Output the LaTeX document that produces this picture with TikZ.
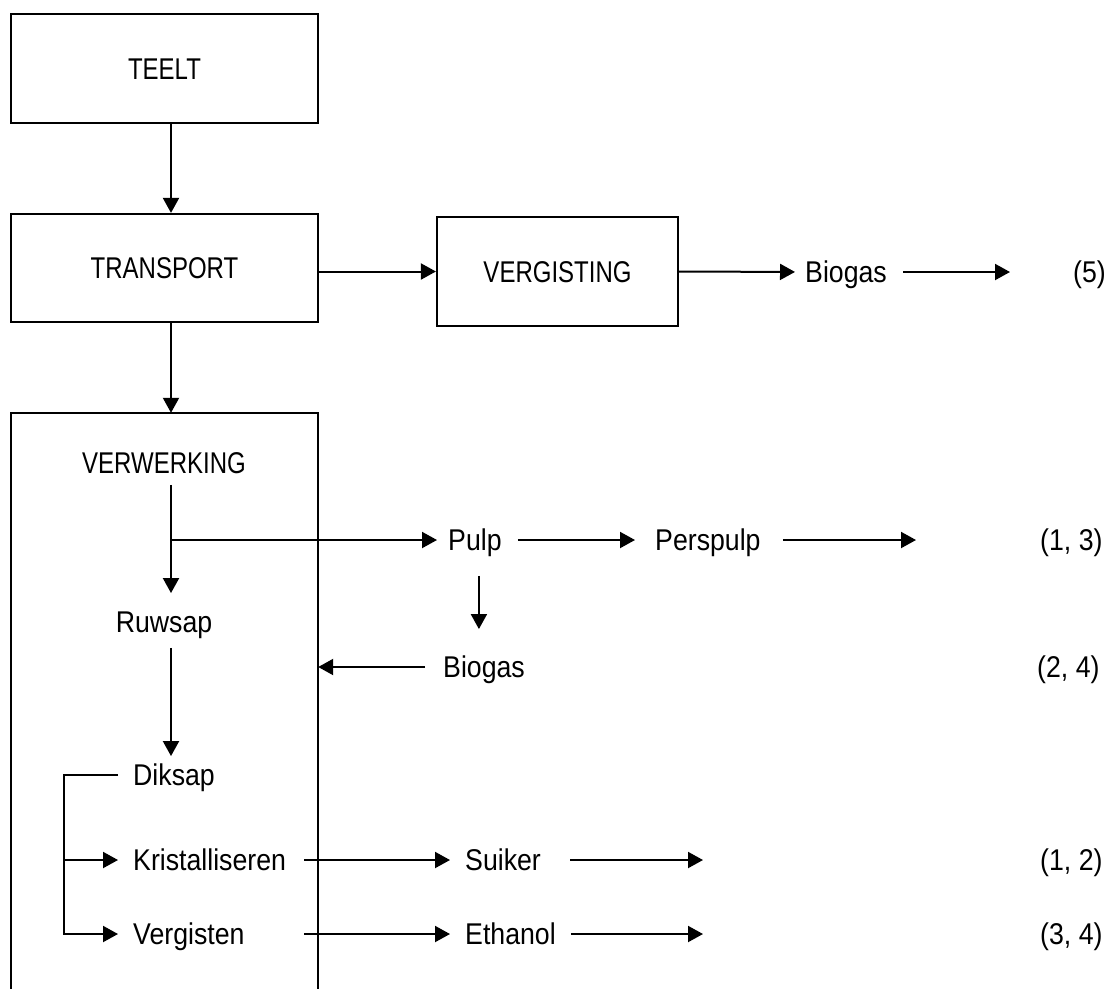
\documentclass[tikz,border=0pt]{standalone}
\usepackage{fontspec}
\setmainfont{Liberation Sans}[FakeStretch=0.89]
\newfontfamily\capsfont{Liberation Sans}[FakeStretch=0.8]
\usetikzlibrary{arrows.meta}
\begin{document}
\begin{tikzpicture}[x=1pt,y=-1pt,
  lbl/.style={inner sep=0pt, text height=21.5pt, text depth=0pt, font=\fontsize{30}{36}\selectfont},
  capslbl/.style={lbl, font=\capsfont\fontsize{30}{36}\selectfont},
  box/.style={draw, line width=2.2pt, minimum width=307pt, inner sep=0pt, text height=21.5pt, text depth=0pt, font=\capsfont\fontsize{30}{36}\selectfont},
  arr/.style={line width=2pt, -{Triangle[length=15pt,width=16pt]}},
  ln/.style={line width=2pt}]
\useasboundingbox (0,0) rectangle (1115,988);
\coordinate (ax) at (171,0);
\coordinate (bx) at (64,0);

% boxes
\node[box, minimum height=109pt] (teelt) at (164.5,68.5) {TEELT};
\node[box, minimum height=108pt] (transport) at (164.5,268) {TRANSPORT};
\node[box, minimum width=241pt, minimum height=109pt] (verg) at (557.5,271.5) {VERGISTING};
\node[minimum width=307pt, minimum height=582pt, inner sep=0pt] (verw) at (164.5,704) {};
\draw[line width=2.2pt] (verw.south west) -- (verw.north west) -- (verw.north east) -- (verw.south east);

% labels
\node[lbl, anchor=west] (biogas1) at (805,272) {Biogas};
\node[lbl, anchor=west] (n5) at (1073,272) {(5)};
\node[capslbl] (vk) at (164,463) {VERWERKING};
\node[lbl, anchor=west] (pulp) at (448,540) {Pulp};
\node[lbl, anchor=west] (perspulp) at (655,540) {Perspulp};
\node[lbl, anchor=west] (n13) at (1040,540) {(1, 3)};
\node[lbl] (ruwsap) at (164,622) {Ruwsap};
\node[lbl, anchor=west] (biogas2) at (443,667) {Biogas};
\node[lbl, anchor=west] (n24) at (1037,667) {(2, 4)};
\node[lbl, anchor=west] (diksap) at (133,775) {Diksap};
\node[lbl, anchor=west] (kris) at (133,860) {Kristalliseren};
\node[lbl, anchor=west] (suiker) at (465,860) {Suiker};
\node[lbl, anchor=west] (n12) at (1040,860) {(1, 2)};
\node[lbl, anchor=west] (verg2) at (133,934) {Vergisten};
\node[lbl, anchor=west] (ethanol) at (465,934) {Ethanol};
\node[lbl, anchor=west] (n34) at (1040,934) {(3, 4)};

% connectors
\draw[arr] (teelt.south -| ax) -- (transport.north -| ax);
\draw[arr] (verg.west -| transport.east) -- (verg.west);
\draw[arr, shorten >=10pt] (verg.east) -- (biogas1.west);
\draw[arr, shorten <=16pt, shorten >=63pt] (biogas1.east) -- (n5.west);
\draw[arr] (transport.south -| ax) -- (verw.north -| ax);
\draw[arr, shorten <=11pt, shorten >=18pt] (vk.south -| ax) -- (ruwsap.north -| ax);
\coordinate (j1) at (pulp.west -| ax);
\draw[arr, shorten >=11pt] (j1) -- (pulp.west);
\draw[arr, shorten <=16pt, shorten >=20pt] (pulp.east) -- (perspulp.west);
\draw[arr, shorten <=22pt, shorten >=124pt] (perspulp.east) -- (n13.west);
\draw[arr, shorten <=25pt, shorten >=27pt] ([xshift=4pt]pulp.south) -- ([xshift=4pt]pulp.south |- biogas2.north);
\draw[arr, shorten <=18pt] (biogas2.west) -- (biogas2.west -| verw.east);
\draw[arr, shorten <=15pt, shorten >=8pt] (ruwsap.south -| ax) -- (diksap.north -| ax);
\draw[arr, shorten >=15pt] ([xshift=-15pt]diksap.west) -- (diksap.west -| bx) -- (verg2.west -| bx) -- (verg2.west);
\draw[arr, shorten >=15pt] (kris.west -| bx) -- (kris.west);
\draw[arr, shorten <=18pt, shorten >=15pt] (kris.east) -- (suiker.west);
\draw[arr, shorten <=18pt, shorten >=15pt] (kris.east |- verg2.east) -- (ethanol.west);
\draw[arr, shorten <=29pt, shorten >=337pt] (suiker.east) -- (n12.west);
\draw[arr, shorten <=15pt, shorten >=337pt] (ethanol.east) -- (n34.west);
\end{tikzpicture}
\end{document}
